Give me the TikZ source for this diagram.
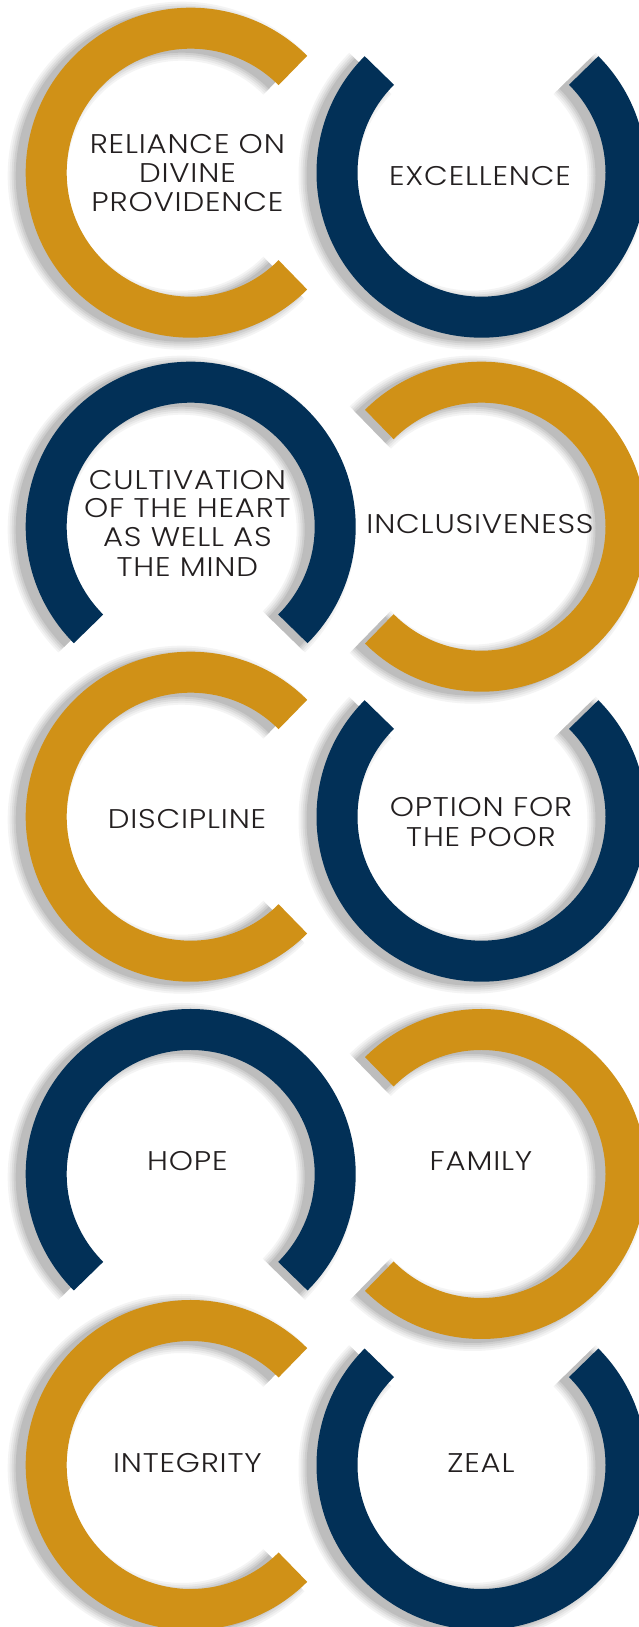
\documentclass[tikz,border=0pt]{standalone}
\usepackage{fontspec}
\IfFontExistsTF{Poppins Light}{\setmainfont{Poppins Light}[LetterSpace=3,FakeStretch=1.14]}{\setmainfont{Poppins}[LetterSpace=3,FakeStretch=1.14]}
\definecolor{gold}{HTML}{D09117}
\definecolor{navy}{HTML}{023057}
\definecolor{ink}{HTML}{231F20}
\definecolor{shade}{HTML}{6A6A6A}
\newcommand{\myring}[4]{% x, Y, start angle, colour
  \foreach \w/\o in {59/0.07,55/0.08,51/0.1,47/0.12,43/0.16}{%
    \draw[line width=\w pt, draw=shade, opacity=\o] (#1-9,#2-3) ++(#3:144.5)
      arc[start angle=#3, delta angle=270, radius=144.5];
  }%
  \draw[ringline, draw=#4] (#1,#2) ++(#3:144.5) arc[start angle=#3, delta angle=270, radius=144.5];
}
\begin{document}
\begin{tikzpicture}[x=1pt,y=1pt,
  ringline/.style={line width=41pt, line cap=butt},
  lbl/.style={text=ink, inner sep=0pt, font=\fontsize{27}{29}\selectfont, text height=18.8pt, text depth=0pt}]
\useasboundingbox (0,0) rectangle (639,1627);
\fill[white] (0,0) rectangle (639,1627);
\clip (0,0) rectangle (639,1627);
% row 1
\myring{190.7}{1454.3}{45}{gold}
\myring{481.5}{1454.3}{135}{navy}
% row 2
\myring{190.7}{1100.3}{-45}{navy}
\myring{481.5}{1100.3}{-135}{gold}
% row 3
\myring{190.7}{810.3}{45}{gold}
\myring{481.5}{810.3}{135}{navy}
% row 4
\myring{190.7}{453}{-45}{navy}
\myring{481.5}{453}{-135}{gold}
% row 5
\myring{190.7}{162}{45}{gold}
\myring{481.5}{162}{135}{navy}
% labels
\node[lbl] (t1a) at (187.4,1483) {RELIANCE ON};
\node[lbl] (t1b) at (187.4,1454) {DIVINE};
\node[lbl] (t1c) at (187.4,1425) {PROVIDENCE};
\node[lbl] (t2) at (480,1451) {EXCELLENCE};
\node[lbl] (t3a) at (187.4,1147) {CULTIVATION};
\node[lbl] (t3b) at (187.4,1119) {OF THE HEART};
\node[lbl] (t3c) at (187.4,1090) {AS WELL AS};
\node[lbl] (t3d) at (187.4,1060) {THE MIND};
\node[lbl] (t4) at (480,1103) {INCLUSIVENESS};
\node[lbl] (t5) at (187,808) {DISCIPLINE};
\node[lbl] (t6a) at (481,820) {OPTION FOR};
\node[lbl] (t6b) at (481,790) {THE POOR};
\node[lbl] (t7) at (187.4,466) {HOPE};
\node[lbl] (t8) at (481,466) {FAMILY};
\node[lbl] (t9) at (187.4,164.3) {INTEGRITY};
\node[lbl] (t10) at (481,164.3) {ZEAL};
\end{tikzpicture}
\end{document}
